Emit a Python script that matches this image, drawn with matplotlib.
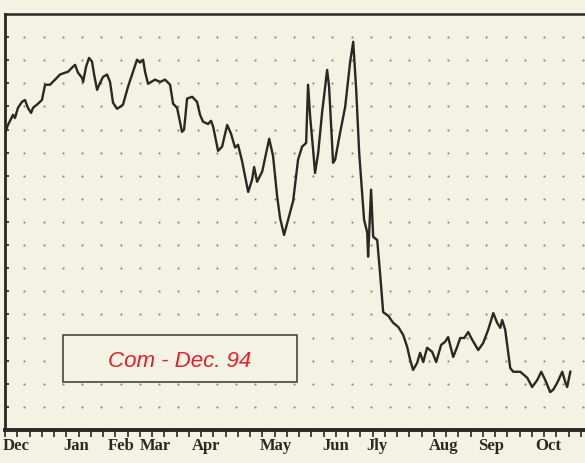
import numpy as np
import matplotlib.pyplot as plt
from matplotlib.patches import Rectangle

# Dec 94 corn futures, days counted from early December
days = [0, 1.7, 4.6, 5.7, 7.4, 9.7, 11.4, 13.1, 14.9, 16.0, 18.3, 21.1, 22.9, 25.7,
        28.6, 31.4, 34.3, 36.0, 38.3, 40.0, 41.7, 44.0, 44.6, 46.3, 48.0, 49.7, 50.9,
        52.6, 54.3, 56.0, 58.3, 60.0, 61.7, 64.0, 65.7, 67.4, 70.3, 73.1, 75.4, 77.1,
        78.9, 80.0, 81.7, 85.7, 88.6, 91.4, 94.3, 96.0, 98.3, 101.1, 102.3, 104.0,
        106.9, 109.7, 111.4, 113.1, 116.0, 117.7, 118.9, 121.7, 124.0, 126.9, 129.1,
        131.4, 133.1, 135.4, 138.9, 141.1, 142.3, 144.0, 146.9, 150.9, 153.1, 155.4,
        157.1, 159.4, 161.7, 164.6, 167.4, 169.7, 172.0, 173.1, 174.3, 176.0, 177.1,
        178.9, 181.1, 184.0, 185.1, 187.4, 188.6, 191.4, 194.3, 197.1, 198.9, 200.6,
        202.3, 205.1, 206.9, 207.4, 209.1, 210.3, 212.6, 214.3, 216.0, 218.9, 221.7,
        224.6, 227.4, 229.7, 231.4, 233.1, 235.4, 237.1, 238.9, 241.1, 244.0, 246.3,
        249.1, 251.4, 253.1, 256.0, 258.3, 260.0, 262.3, 264.6, 266.3, 268.0, 270.3,
        273.1, 276.0, 278.9, 281.1, 282.9, 284.0, 285.7, 288.6, 290.3, 294.3, 298.3,
        301.1, 304.0, 306.3, 308.6, 311.4, 313.1, 315.4, 318.3, 320.0, 321.1, 322.9]
price = [274.3, 276.0, 278.2, 277.5, 279.7, 281.0, 281.4, 279.7, 278.6, 279.7, 280.4,
         281.4, 284.7, 284.7, 285.8, 286.9, 287.3, 287.5, 288.4, 289.0, 287.3, 286.2,
         285.3, 288.6, 290.5, 289.7, 286.9, 283.6, 285.1, 286.4, 286.9, 285.3, 280.8,
         279.5, 279.9, 280.4, 284.3, 287.5, 290.1, 289.5, 290.1, 287.5, 284.9, 285.8,
         285.3, 285.8, 284.7, 280.6, 279.7, 274.5, 275.0, 281.7, 282.1, 281.0, 278.2,
         276.7, 276.2, 276.9, 275.6, 270.4, 271.3, 276.0, 274.1, 271.1, 271.7, 268.2,
         261.5, 264.1, 266.9, 263.7, 265.9, 273.0, 269.3, 260.7, 255.9, 252.2, 255.5,
         259.6, 268.5, 271.3, 272.1, 284.7, 277.8, 270.6, 265.6, 270.0, 278.6, 287.9,
         284.3, 267.8, 268.5, 274.3, 279.9, 289.5, 294.0, 283.6, 270.0, 255.5, 252.7,
         247.5, 262.0, 251.8, 251.1, 243.6, 235.5, 234.7, 233.2, 232.3, 230.6, 228.0,
         225.2, 223.0, 224.5, 226.7, 224.7, 227.8, 226.9, 224.7, 228.4, 229.1, 230.1,
         225.8, 228.0, 229.9, 229.9, 231.2, 229.9, 228.8, 227.3, 228.8, 231.7, 235.3,
         233.2, 232.1, 233.8, 231.7, 223.4, 222.6, 222.6, 221.3, 219.3, 220.8, 222.6,
         220.8, 218.2, 218.7, 220.2, 222.6, 220.4, 219.3, 222.6]

months = ['Dec', 'Jan', 'Feb', 'Mar', 'Apr', 'May', 'Jun', 'Jly', 'Aug', 'Sep', 'Oct']
month_pos = [6.3, 40.6, 66.5, 86.0, 114.9, 154.9, 189.1, 212.6, 250.3, 277.7, 310.3]

paper = '#f4f2e3'
ink = '#2b2723'

fig = plt.figure(figsize=(5.85, 4.63), dpi=100, facecolor=paper)
ax = fig.add_axes([5 / 585, 33 / 463, 597 / 585, 416 / 463], facecolor=paper)

ax.set_xlim(0, 341)
ax.set_ylim(210, 300)

# dotted grid
gx, gy = np.meshgrid(np.arange(11, 341, 11), np.arange(215, 300, 5))
ax.scatter(gx.ravel(), gy.ravel(), s=2.5, color='#8c8b80', linewidths=0, zorder=1)

ax.plot(days, price, color=ink, lw=1.7, zorder=3)

# label box
ax.add_patch(Rectangle((33, 220.3), 134, 10.3, fc=paper, ec='#4a4640', lw=1.2, zorder=4))
ax.text(100, 224.9, 'Com - Dec. 94', color='#e3202e', fontsize=16, style='italic',
        family='Liberation Sans', ha='center', va='center', zorder=5)

for side in ['top', 'left', 'bottom', 'right']:
    ax.spines[side].set_color(ink)
ax.spines['top'].set_linewidth(1.8)
ax.spines['left'].set_linewidth(2)
ax.spines['bottom'].set_linewidth(2.8)

ax.set_yticks(np.arange(215, 300, 5))
ax.tick_params(axis='y', direction='in', length=3, width=1.2, color=ink, labelleft=False)
ax.set_xticks(month_pos)
ax.set_xticklabels(months, family='Liberation Serif', fontweight='bold', fontsize=12, color=ink)
ax.set_xticks(np.arange(0, 341, 7), minor=True)
ax.tick_params(axis='x', which='major', length=0, pad=6)
ax.tick_params(axis='x', which='minor', direction='out', length=5, width=1.2, color=ink)

fig.savefig('out.png', dpi=100, facecolor=paper)
